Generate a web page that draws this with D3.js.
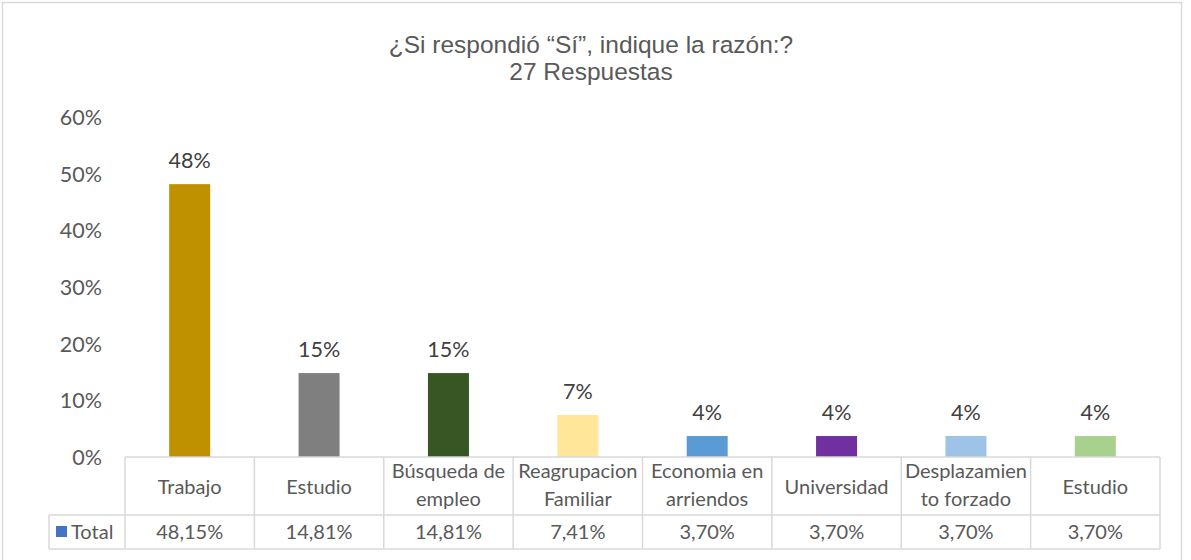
<!DOCTYPE html>
<html><head><meta charset="utf-8">
<script src="https://cdn.jsdelivr.net/npm/d3@7"></script>
<style>body{margin:0;background:#fff}svg{display:block}</style>
</head><body>
<svg id="c" width="1191" height="560"></svg>
<script>
const titleLines = ["¿Si respondió “Sí”, indique la razón:?", "27 Respuestas"];
const categories = [["Trabajo"],["Estudio"],["Búsqueda de","empleo"],["Reagrupacion","Familiar"],["Economia en","arriendos"],["Universidad"],["Desplazamien","to forzado"],["Estudio"]];
const values = [0.4815,0.1481,0.1481,0.0741,0.0370,0.0370,0.0370,0.0370];
const dataLabels = ["48%","15%","15%","7%","4%","4%","4%","4%"];
const tableValues = ["48,15%","14,81%","14,81%","7,41%","3,70%","3,70%","3,70%","3,70%"];
const colors = ["#BF9000","#7F7F7F","#375623","#FFE699","#5B9BD5","#7030A0","#9DC3E6","#A9D18E"];
const seriesName = "Total";
const seriesColor = "#4472C4";
const yTicks = [0,0.1,0.2,0.3,0.4,0.5,0.6];

const svg = d3.select("#c");
const textCol = "#595959", gridCol = "#D9D9D9";
const bodyFont = "Lato, 'Open Sans', sans-serif";

svg.append("rect").attr("x",2.5).attr("y",2.5).attr("width",1179).attr("height",570)
  .attr("fill","#fff").attr("stroke",gridCol).attr("stroke-width",1.5);

svg.selectAll("text.title").data(titleLines).join("text").attr("class","title")
  .attr("x",591).attr("y",(d,i)=>53+i*27).attr("text-anchor","middle")
  .attr("font-family","'Liberation Sans', Arial, sans-serif").attr("font-size",24.5)
  .attr("fill",textCol).text(d=>d);

const idx = d3.range(categories.length);
const x = d3.scaleBand().domain(idx).range([125,1160]).padding(0);
const y = d3.scaleLinear().domain([0,0.6]).range([457,117]);
const bw = 41;

svg.selectAll("text.ytick").data(yTicks).join("text").attr("class","ytick")
  .attr("x",102).attr("y",d=>y(d)+8).attr("text-anchor","end")
  .attr("font-family",bodyFont).attr("font-size",21.5).attr("fill",textCol)
  .text(d3.format(".0%"));

svg.selectAll("rect.bar").data(idx).join("rect").attr("class","bar")
  .attr("x",i=>x(i)+x.bandwidth()/2-bw/2).attr("width",bw)
  .attr("y",i=>y(values[i])).attr("height",i=>y(0)-y(values[i]))
  .attr("fill",i=>colors[i]);

svg.selectAll("text.dl").data(idx).join("text").attr("class","dl")
  .attr("x",i=>x(i)+x.bandwidth()/2).attr("y",i=>y(values[i])-16)
  .attr("text-anchor","middle").attr("font-family",bodyFont).attr("font-size",21.5)
  .attr("fill","#404040").text(i=>dataLabels[i]);

// data table
const rowTop = 457, rowMid = 515, rowBot = 549, legLeft = 49;
const g = svg.append("g").attr("stroke",gridCol).attr("stroke-width",1.5).attr("fill","none");
g.append("line").attr("x1",x(0)).attr("x2",1160).attr("y1",rowTop).attr("y2",rowTop);
g.append("line").attr("x1",legLeft).attr("x2",1160).attr("y1",rowMid).attr("y2",rowMid);
g.append("line").attr("x1",legLeft).attr("x2",1160).attr("y1",rowBot).attr("y2",rowBot);
g.append("line").attr("x1",legLeft).attr("x2",legLeft).attr("y1",rowMid).attr("y2",rowBot);
g.selectAll("line.v").data(d3.range(categories.length+1)).join("line").attr("class","v")
  .attr("x1",i=>i<categories.length?x(i):1160).attr("x2",i=>i<categories.length?x(i):1160)
  .attr("y1",rowTop).attr("y2",rowBot);

idx.forEach(i=>{
  const lines = categories[i];
  const cx = x(i)+x.bandwidth()/2;
  const t = svg.append("text").attr("text-anchor","middle").attr("font-family",bodyFont)
    .attr("font-size",20).attr("fill",textCol);
  lines.forEach((l,k)=>{
    const yy = lines.length===1 ? 494 : 478 + k*28;
    t.append("tspan").attr("x",cx).attr("y",yy).text(l);
  });
  svg.append("text").attr("x",cx).attr("y",539).attr("text-anchor","middle")
    .attr("font-family",bodyFont).attr("font-size",20).attr("fill",textCol).text(tableValues[i]);
});
svg.append("rect").attr("x",56).attr("y",526).attr("width",11).attr("height",11).attr("fill",seriesColor);
svg.append("text").attr("x",71).attr("y",539).attr("font-family",bodyFont).attr("font-size",20)
  .attr("fill",textCol).text(seriesName);
</script>
</body></html>
